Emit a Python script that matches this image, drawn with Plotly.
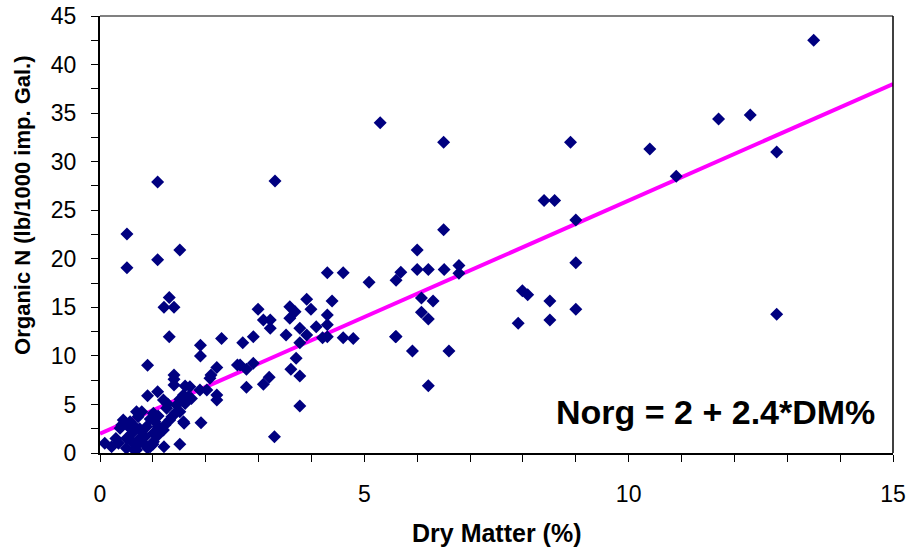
import plotly.graph_objects as go

dry_matter = [
    13.5, 12.3, 11.7, 10.4, 10.9, 12.8, 8.9, 9.0, 9.0, 9.0, 12.8,
    5.3, 6.5, 8.4, 8.6, 6.5, 6.0, 5.69, 5.6, 6.0, 6.21, 6.51, 6.79, 6.79,
    6.08, 6.3, 6.08, 6.21, 5.6, 5.91, 6.6, 6.21, 7.99, 8.09, 8.51, 7.91, 8.51,
    4.3, 4.6, 5.09, 3.91, 4.39, 2.99, 3.59, 3.69, 3.99, 3.59, 3.09, 3.22, 3.22,
    4.3, 4.09, 4.3, 3.78, 3.52, 2.9, 2.7, 3.91, 4.21, 4.3, 4.6, 4.79, 5.59,
    3.78, 3.71, 3.61, 3.78, 2.9, 2.77, 2.65, 3.2, 3.09, 2.77, 3.78, 3.3,
    1.31, 1.21, 1.4, 1.31, 1.9, 1.9, 2.3, 0.9, 1.4, 1.4, 1.4, 1.61, 2.1, 2.08,
    2.21, 1.89, 2.02, 2.21, 2.21, 2.6, 0.9, 1.09, 1.2, 1.28, 1.26, 1.61, 1.67,
    1.73, 1.51, 1.59, 1.42, 1.36, 1.2, 1.01, 0.79, 0.69, 0.72, 0.41, 0.54, 0.38,
    0.09, 0.22, 0.35, 0.5, 0.5, 0.69, 0.6, 0.72, 0.82, 0.79, 0.85, 0.88, 0.95,
    1.01, 1.01, 1.1, 1.1, 1.04, 0.57, 0.44, 0.66, 1.21, 1.51, 1.91, 1.58, 1.32,
    1.23, 1.45, 1.51, 1.58, 1.7,
    1.09, 0.51, 0.51, 1.09, 1.51, 3.31,
    0.6, 0.7, 0.9, 1.0, 0.75, 0.95, 1.1, 0.5, 0.3, 0.65,
]
organic_n = [
    42.5, 34.8, 34.4, 31.3, 28.5, 31.0, 32.0, 24.0, 19.6, 14.8, 14.3,
    34.0, 32.0, 26.0, 26.0, 23.0, 20.9, 18.6, 17.8, 18.9, 18.9, 18.9, 19.3, 18.5,
    15.96, 15.65, 14.5, 13.8, 12.0, 10.5, 10.5, 6.93, 16.7, 16.3, 15.65, 13.35, 13.7,
    18.57, 18.57, 17.58, 15.83, 15.65, 14.8, 15.07, 14.55, 14.8, 13.87, 13.7, 13.7, 12.84,
    14.2, 13.0, 13.2, 12.84, 12.15, 11.98, 11.36, 12.15, 11.88, 11.98, 11.88, 11.8, 11.98,
    11.36, 9.75, 8.62, 7.93, 9.24, 8.62, 9.06, 7.8, 7.07, 6.77, 4.84, 1.68,
    16.0, 15.0, 15.0, 11.98, 11.1, 9.99, 11.8, 9.03, 8.03, 7.6, 7.0, 6.9, 8.03, 7.7,
    8.8, 6.49, 6.49, 5.97, 5.46, 9.06, 5.9, 6.3, 5.46, 5.05, 4.6, 5.1, 5.8,
    5.6, 4.25, 3.06, 4.09, 3.74, 2.37, 4.09, 4.25, 4.25, 3.74, 2.88, 2.71, 2.54,
    1.0, 0.65, 1.0, 0.48, 1.5, 0.31, 2.0, 1.34, 1.0, 2.2, 1.68, 2.71, 0.65,
    1.16, 2.03, 1.85, 2.71, 3.22, 3.22, 3.4, 2.71, 0.65, 0.9, 3.12, 3.22, 3.4,
    2.88, 4.94, 5.53, 5.97, 6.83,
    27.9, 22.55, 19.08, 19.9, 20.9, 28.0,
    1.2, 0.8, 0.5, 0.9, 2.5, 3.5, 3.8, 3.0, 1.5, 0.3,
]

fit_intercept = 2.0
fit_slope = 2.4
fit_x = [0, 15]
fit_y = [fit_intercept + fit_slope * v for v in fit_x]
equation_text = "Norg = 2 + 2.4*DM%"

x_title = "Dry Matter (%)"
y_title = "Organic N (lb/1000 imp. Gal.)"

fig = go.Figure()
fig.add_trace(go.Scatter(
    x=fit_x, y=fit_y, mode="lines",
    line=dict(color="#FF00FF", width=4),
    hoverinfo="skip", showlegend=False,
))
fig.add_trace(go.Scatter(
    x=dry_matter, y=organic_n, mode="markers",
    marker=dict(symbol="diamond", size=10, color="#000080",
                line=dict(width=0)),
    showlegend=False,
))

font_family = "Liberation Sans, Arial, sans-serif"

fig.update_layout(
    width=906, height=547,
    margin=dict(l=100, r=13, t=16, b=94),
    paper_bgcolor="white", plot_bgcolor="white",
    font=dict(family=font_family, color="black"),
    xaxis=dict(
        range=[0, 15], dtick=5, tick0=0, automargin=False,
        ticks="outside", ticklen=7, tickwidth=1, tickcolor="black",
        showline=True, linecolor="black", linewidth=2,
        showgrid=False, zeroline=False,
        tickfont=dict(size=23, family=font_family),
        ticklabelstandoff=12, ticklabeloverflow="allow",
        minor=dict(dtick=1, ticks="outside", ticklen=7, tickcolor="black", tickwidth=1, showgrid=False),
    ),
    yaxis=dict(
        range=[0, 45], dtick=5, tick0=0, automargin=False,
        ticks="outside", ticklen=7, tickwidth=1, tickcolor="black",
        showline=True, linecolor="black", linewidth=2,
        showgrid=False, zeroline=False,
        tickfont=dict(size=23, family=font_family),
        ticklabelstandoff=10, ticklabeloverflow="allow",
        minor=dict(dtick=2.5, ticks="outside", ticklen=7, tickcolor="black", tickwidth=1, showgrid=False),
    ),
    shapes=[
        dict(type="line", xref="paper", yref="paper", x0=0, x1=1, y0=1, y1=1,
             line=dict(color="#808080", width=2)),
        dict(type="line", xref="paper", yref="paper", x0=1, x1=1, y0=0, y1=1,
             line=dict(color="black", width=1.5)),
    ],
    annotations=[
        dict(x=0.98, y=0.094, xref="paper", yref="paper", xanchor="right", yanchor="middle",
             text="<b>" + equation_text + "</b>", showarrow=False,
             font=dict(size=34, family=font_family, color="black")),
        dict(x=0.5, y=-0.183, xref="paper", yref="paper", xanchor="center", yanchor="middle",
             text="<b>" + x_title + "</b>", showarrow=False,
             font=dict(size=25, family=font_family, color="black")),
        dict(x=-0.0984, y=0.5675, xref="paper", yref="paper", xanchor="center", yanchor="middle",
             textangle=-90, text="<b>" + y_title + "</b>", showarrow=False,
             font=dict(size=22, family=font_family, color="black")),
    ],
)

fig.write_html("out.html", config={"displayModeBar": False},
               post_script="document.body.style.margin='0px';")
